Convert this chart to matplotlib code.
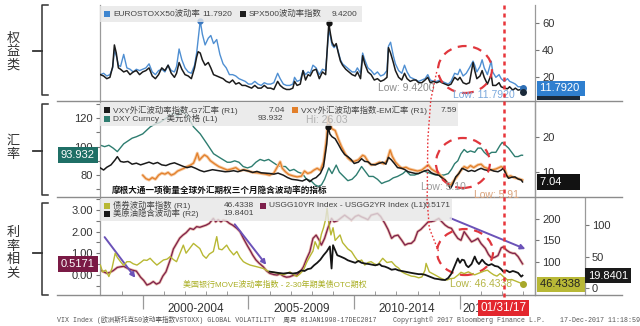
import numpy as np
import matplotlib
matplotlib.use('Agg')
import matplotlib.pyplot as plt
from matplotlib.patches import Ellipse, Rectangle, FancyArrowPatch
from matplotlib.lines import Line2D
import matplotlib.transforms as mtransforms
from matplotlib.ticker import FixedLocator, FormatStrFormatter

plt.rcParams['font.family'] = ['Liberation Sans', 'Noto Sans CJK SC', 'DejaVu Sans']

# ---------------- data ----------------
vix_years = [1998.00, 1998.15, 1998.30, 1998.45, 1998.58, 1998.66, 1998.75, 1998.85, 1998.95, 1999.10,
             1999.25, 1999.40, 1999.55, 1999.70, 1999.85, 2000.00, 2000.15, 2000.30, 2000.45, 2000.60,
             2000.75, 2000.90, 2001.05, 2001.20, 2001.35, 2001.50, 2001.60, 2001.72, 2001.85, 2002.00,
             2002.15, 2002.30, 2002.45, 2002.55, 2002.62, 2002.72, 2002.82, 2002.95, 2003.10, 2003.22,
             2003.35, 2003.50, 2003.65, 2003.80, 2003.95, 2004.10, 2004.25, 2004.40, 2004.55, 2004.70,
             2004.85, 2005.00, 2005.15, 2005.30, 2005.45, 2005.60, 2005.75, 2005.90, 2006.05, 2006.20,
             2006.38, 2006.50, 2006.65, 2006.80, 2006.95, 2007.10, 2007.18, 2007.30, 2007.45, 2007.58,
             2007.70, 2007.82, 2007.92, 2008.05, 2008.20, 2008.35, 2008.50, 2008.65, 2008.80, 2008.88,
             2008.95, 2009.05, 2009.15, 2009.25, 2009.35, 2009.45, 2009.60, 2009.75, 2009.90, 2010.05,
             2010.15, 2010.30, 2010.40, 2010.50, 2010.65, 2010.80, 2010.95, 2011.10, 2011.25, 2011.40,
             2011.55, 2011.62, 2011.72, 2011.85, 2011.95, 2012.10, 2012.25, 2012.38, 2012.50, 2012.65,
             2012.80, 2012.92, 2013.05, 2013.20, 2013.35, 2013.48, 2013.60, 2013.75, 2013.90, 2014.05,
             2014.15, 2014.30, 2014.45, 2014.58, 2014.75, 2014.90, 2015.00, 2015.15, 2015.30, 2015.45,
             2015.62, 2015.70, 2015.80, 2015.95, 2016.05, 2016.15, 2016.30, 2016.48, 2016.55, 2016.70,
             2016.85, 2016.95, 2017.10, 2017.25, 2017.35, 2017.50, 2017.62, 2017.75, 2017.88, 2017.96]
vix_vals = [22, 21, 19, 20, 28, 44, 38, 27, 26, 24,
            25, 22, 24, 25, 22, 24, 25, 27, 21, 19,
            22, 27, 25, 29, 23, 20, 23, 31, 26, 22,
            21, 19, 27, 35, 39, 38, 33, 29, 31, 27,
            22, 21, 20, 19, 17, 16, 18, 15, 16, 14,
            14, 13, 12, 14, 12, 12, 14, 12, 12, 11,
            17, 14, 12, 11, 11, 12, 17, 14, 15, 25,
            18, 22, 21, 25, 26, 19, 24, 22, 60, 52,
            46, 43, 45, 38, 32, 29, 26, 24, 22, 21,
            24, 19, 36, 30, 24, 22, 18, 19, 17, 18,
            20, 42, 38, 31, 25, 20, 18, 23, 19, 17,
            18, 18, 16, 16, 18, 20, 16, 17, 16, 17,
            16, 15, 14, 15, 20, 18, 20, 16, 15, 16,
            31, 25, 19, 21, 25, 20, 15, 22, 14, 14,
            16, 13, 12, 11.5, 13, 10.5, 12, 10.5, 11, 9.42]

vstoxx_years = vix_years
vstoxx_vals = [22, 23, 21, 22, 27, 40, 36, 29, 28, 37,
               27, 26, 24, 26, 25, 26, 27, 30, 24, 22,
               25, 26, 24, 29, 25, 24, 28, 41, 33, 27,
               24, 23, 29, 38, 48, 62, 52, 44, 49, 51,
               45, 48, 37, 30, 27, 22, 22, 21, 19, 18,
               17, 15, 15, 17, 15, 14, 16, 15, 15, 16,
               23, 19, 15, 14, 14, 15, 20, 17, 18, 25,
               22, 24, 23, 29, 27, 22, 26, 25, 55, 50,
               44, 42, 44, 39, 33, 30, 28, 26, 24, 24,
               27, 23, 38, 33, 27, 25, 22, 24, 21, 22,
               25, 43, 46, 36, 30, 25, 23, 29, 24, 20,
               19, 18, 17, 18, 19, 22, 18, 17, 17, 18,
               17, 16, 15, 17, 23, 22, 26, 21, 23, 27,
               32, 29, 24, 28, 33, 27, 22, 32, 24, 20,
               22, 19, 17, 19, 17, 16, 15, 13, 13, 11.792]

dxy_years = [1998.00, 1998.20, 1998.40, 1998.60, 1998.80, 1999.10, 1999.30, 1999.50, 1999.70, 2000.00,
             2000.36, 2000.60, 2000.80, 2001.00, 2001.20, 2001.46, 2001.65, 2001.80, 2002.10, 2002.40,
             2002.72, 2003.04, 2003.35, 2003.67, 2004.00, 2004.15, 2004.35, 2004.55, 2004.75, 2004.95,
             2005.15, 2005.35, 2005.55, 2005.75, 2005.95, 2006.15, 2006.35, 2006.55, 2006.75, 2006.95,
             2007.15, 2007.35, 2007.55, 2007.75, 2007.95, 2008.15, 2008.30, 2008.45, 2008.60, 2008.80,
             2008.95, 2009.15, 2009.30, 2009.50, 2009.70, 2009.90, 2010.10, 2010.35, 2010.50, 2010.70,
             2010.90, 2011.10, 2011.30, 2011.45, 2011.65, 2011.85, 2012.05, 2012.30, 2012.45, 2012.65,
             2012.85, 2013.05, 2013.25, 2013.45, 2013.65, 2013.85, 2014.05, 2014.25, 2014.45, 2014.60,
             2014.75, 2014.90, 2015.05, 2015.20, 2015.35, 2015.50, 2015.70, 2015.85, 2016.00, 2016.15,
             2016.30, 2016.50, 2016.70, 2016.90, 2017.00, 2017.15, 2017.30, 2017.45, 2017.60, 2017.75,
             2017.90, 2017.96]
dxy_vals = [101, 100, 101, 99, 96.5, 102, 104, 106, 107, 109,
            114, 116, 117, 119, 121, 124, 121, 126, 122, 114,
            109, 102, 95, 92, 89, 89, 90, 89, 86, 85,
            86, 89, 91, 90, 91, 89, 87, 86, 86, 83,
            84, 82, 81, 77, 76, 73, 72, 73, 77, 85,
            81, 87, 82, 79, 76, 77, 80, 86, 83, 79,
            79, 77, 74, 75, 76, 78, 79, 81, 83, 80,
            80, 81, 83, 82, 81, 80, 80, 80, 81, 84,
            88, 90, 95, 98, 96, 97, 96, 99, 99, 96,
            94, 96, 96, 101, 103, 101, 99, 96, 93, 93,
            94, 93.932]

g7_years = [1998.00, 1998.15, 1998.30, 1998.50, 1998.70, 1998.80, 1998.95, 1999.10, 1999.30, 1999.50,
            1999.70, 1999.90, 2000.10, 2000.30, 2000.50, 2000.70, 2000.90, 2001.10, 2001.30, 2001.50,
            2001.70, 2001.90, 2002.10, 2002.30, 2002.50, 2002.70, 2002.90, 2003.10, 2003.30, 2003.50,
            2003.70, 2003.90, 2004.10, 2004.30, 2004.50, 2004.75, 2005.00, 2005.20, 2005.40, 2005.60,
            2005.80, 2006.00, 2006.20, 2006.40, 2006.65, 2006.85, 2007.05, 2007.30, 2007.55, 2007.75,
            2007.90, 2008.05, 2008.20, 2008.40, 2008.55, 2008.70, 2008.77, 2008.85, 2008.95, 2009.10,
            2009.25, 2009.40, 2009.55, 2009.70, 2009.85, 2010.00, 2010.20, 2010.35, 2010.50, 2010.65,
            2010.80, 2011.00, 2011.15, 2011.35, 2011.50, 2011.62, 2011.75, 2011.90, 2012.05, 2012.25,
            2012.40, 2012.55, 2012.75, 2012.90, 2013.05, 2013.20, 2013.35, 2013.50, 2013.65, 2013.80,
            2014.00, 2014.15, 2014.30, 2014.45, 2014.55, 2014.65, 2014.80, 2014.95, 2015.10, 2015.25,
            2015.40, 2015.55, 2015.70, 2015.85, 2016.00, 2016.15, 2016.30, 2016.45, 2016.60, 2016.80,
            2016.95, 2017.05, 2017.20, 2017.30, 2017.45, 2017.60, 2017.75, 2017.90, 2017.96]
g7_vals = [11.1, 10.5, 11.3, 12.0, 13.5, 14.4, 13.0, 12.8, 13.0, 12.2,
           12.5, 12.0, 12.4, 12.8, 12.3, 12.7, 12.0, 11.8, 12.3, 12.6,
           12.1, 11.6, 11.2, 11.5, 11.0, 10.4, 10.0, 10.3, 10.6, 10.4,
           10.2, 10.0, 10.1, 10.3, 10.0, 10.5, 10.2, 9.8, 10.1, 9.7,
           9.6, 9.5, 9.3, 9.6, 9.0, 8.3, 7.8, 7.6, 7.3, 7.9,
           7.1, 7.9, 8.3, 9.5, 11.5, 18.0, 23.1, 21.0, 20.2, 19.6,
           18.0, 16.3, 15.0, 14.4, 13.6, 12.4, 12.8, 13.8, 13.0, 12.9,
           12.1, 12.0, 12.4, 12.8, 12.2, 14.2, 13.5, 12.4, 11.2, 11.0,
           10.6, 10.0, 9.7, 9.5, 9.5, 9.9, 10.3, 10.5, 9.7, 9.3,
           9.0, 8.2, 7.6, 6.4, 5.10, 6.2, 8.5, 9.5, 11.0, 10.6,
           10.1, 10.4, 10.1, 10.6, 11.0, 10.6, 10.4, 10.6, 10.2, 10.0,
           10.5, 11.0, 9.0, 8.1, 8.4, 8.5, 7.9, 7.6, 7.04]

em_years = [2000.00, 2000.15, 2000.30, 2000.45, 2000.60, 2000.75, 2000.90, 2001.05, 2001.20, 2001.35,
            2001.50, 2001.65, 2001.80, 2001.95, 2002.10, 2002.25, 2002.40, 2002.50, 2002.58, 2002.68,
            2002.80, 2002.92, 2003.05, 2003.20, 2003.40, 2003.60, 2003.80, 2004.00, 2004.20, 2004.40,
            2004.60, 2004.80, 2005.00, 2005.20, 2005.40, 2005.60, 2005.80, 2006.00, 2006.20, 2006.40,
            2006.50, 2006.60, 2006.75, 2006.90, 2007.10, 2007.30, 2007.50, 2007.65, 2007.80, 2007.95,
            2008.10, 2008.25, 2008.40, 2008.55, 2008.70, 2008.77, 2008.85, 2008.95, 2009.10, 2009.25,
            2009.40, 2009.55, 2009.70, 2009.85, 2010.00, 2010.20, 2010.40, 2010.50, 2010.65, 2010.80,
            2011.00, 2011.20, 2011.40, 2011.55, 2011.70, 2011.80, 2011.95, 2012.10, 2012.25, 2012.45,
            2012.60, 2012.80, 2013.00, 2013.20, 2013.40, 2013.50, 2013.65, 2013.80, 2014.00, 2014.15,
            2014.30, 2014.42, 2014.50, 2014.60, 2014.70, 2014.85, 2015.00, 2015.20, 2015.35, 2015.50,
            2015.65, 2015.85, 2016.00, 2016.15, 2016.30, 2016.50, 2016.70, 2016.85, 2016.95, 2017.10,
            2017.25, 2017.40, 2017.55, 2017.75, 2017.90, 2017.96]
em_vals = [9.0, 8.0, 7.6, 8.3, 7.8, 9.0, 9.6, 9.3, 9.8, 9.0,
           9.4, 10.2, 10.6, 11.0, 11.5, 11.9, 12.5, 14.0, 15.4, 13.4,
           14.2, 14.9, 14.4, 13.2, 12.3, 11.5, 11.0, 10.5, 10.8, 11.2,
           10.3, 10.6, 10.2, 9.8, 9.7, 9.5, 9.3, 9.0, 9.6, 11.8,
           12.9, 11.0, 10.0, 9.2, 8.8, 8.5, 8.7, 10.2, 9.5, 9.8,
           10.5, 11.0, 10.4, 12.9, 20.0, 26.03, 24.0, 22.5, 22.0, 19.5,
           17.3, 15.5, 14.0, 13.2, 13.0, 13.5, 14.8, 14.5, 13.0, 12.0,
           12.2, 12.8, 12.3, 13.2, 16.3, 14.5, 12.8, 11.8, 11.0, 11.3,
           10.8, 10.5, 10.2, 10.5, 11.5, 12.0, 10.8, 10.2, 9.5, 8.5,
           7.5, 6.6, 5.91, 6.4, 7.3, 8.5, 10.0, 11.5, 11.0, 11.8,
           11.2, 12.0, 12.2, 11.3, 11.0, 10.5, 10.8, 11.2, 11.5, 11.0,
           8.5, 8.8, 8.3, 8.0, 7.7, 7.59]

spread_years = [1998.00, 1998.15, 1998.30, 1998.45, 1998.60, 1998.80, 1998.95, 1999.10, 1999.30, 1999.50,
                1999.70, 1999.90, 2000.05, 2000.20, 2000.35, 2000.50, 2000.65, 2000.80, 2000.95, 2001.10,
                2001.30, 2001.45, 2001.60, 2001.75, 2001.90, 2002.05, 2002.24, 2002.40, 2002.55, 2002.70,
                2002.85, 2003.00, 2003.15, 2003.34, 2003.45, 2003.57, 2003.70, 2003.80, 2003.95, 2004.10,
                2004.25, 2004.45, 2004.60, 2004.76, 2004.95, 2005.10, 2005.20, 2005.35, 2005.50, 2005.70,
                2005.85, 2006.00, 2006.20, 2006.35, 2006.50, 2006.65, 2006.80, 2006.95, 2007.10, 2007.30,
                2007.45, 2007.60, 2007.75, 2007.90, 2008.05, 2008.20, 2008.35, 2008.45, 2008.60, 2008.75,
                2008.93, 2009.05, 2009.20, 2009.40, 2009.55, 2009.70, 2009.87, 2010.05, 2010.20, 2010.35,
                2010.50, 2010.65, 2010.80, 2010.95, 2011.10, 2011.25, 2011.45, 2011.60, 2011.77, 2011.90,
                2012.07, 2012.25, 2012.40, 2012.55, 2012.70, 2012.85, 2013.00, 2013.15, 2013.35, 2013.50,
                2013.65, 2013.80, 2014.00, 2014.15, 2014.30, 2014.45, 2014.60, 2014.75, 2014.90, 2015.05,
                2015.20, 2015.35, 2015.55, 2015.70, 2015.85, 2016.00, 2016.20, 2016.35, 2016.50, 2016.65,
                2016.80, 2016.95, 2017.05, 2017.20, 2017.35, 2017.50, 2017.60, 2017.75, 2017.90, 2017.96]
spread_vals = [0.23, 0.15, 0.08, 0.12, 0.20, 0.35, 0.38, 0.40, 0.30, 0.23,
               0.18, -0.10, -0.25, -0.46, -0.40, -0.30, -0.42, -0.35, -0.05, 0.15,
               0.70, 1.20, 1.45, 1.70, 1.84, 1.95, 2.15, 2.10, 2.23, 2.20,
               2.25, 2.30, 2.38, 2.61, 2.45, 2.55, 2.45, 2.53, 2.50, 2.38,
               2.30, 2.15, 2.00, 1.69, 1.35, 1.10, 0.92, 0.70, 0.55, 0.38,
               0.20, 0.08, 0.02, 0.00, 0.05, -0.05, -0.10, -0.08, -0.02, 0.00,
               0.15, 0.38, 0.75, 1.07, 1.69, 1.84, 1.60, 1.38, 1.69, 2.15,
               2.61, 2.45, 2.50, 2.65, 2.76, 2.65, 2.53, 2.70, 2.76, 2.68,
               2.62, 2.55, 2.76, 2.80, 2.84, 2.70, 2.38, 2.10, 1.69, 1.80,
               1.84, 1.60, 1.38, 1.45, 1.46, 1.60, 2.00, 2.10, 2.30, 2.45,
               2.46, 2.50, 2.61, 2.45, 2.30, 2.20, 2.15, 1.90, 1.69, 1.60,
               2.00, 1.80, 1.53, 1.60, 1.69, 1.45, 1.23, 0.95, 0.77, 0.82,
               0.90, 1.25, 1.30, 1.15, 1.05, 1.00, 1.00, 0.85, 0.61, 0.5171]

move_years = [1998.00, 1998.10, 1998.25, 1998.40, 1998.55, 1998.70, 1998.80, 1998.95, 1999.10, 1999.25,
              1999.40, 1999.55, 1999.73, 1999.90, 2000.05, 2000.20, 2000.35, 2000.50, 2000.67, 2000.85,
              2000.98, 2001.15, 2001.30, 2001.45, 2001.60, 2001.75, 2001.92, 2002.05, 2002.20, 2002.40,
              2002.55, 2002.70, 2002.85, 2003.00, 2003.15, 2003.34, 2003.50, 2003.60, 2003.75, 2003.97,
              2004.10, 2004.30, 2004.45, 2004.60, 2004.76, 2004.90, 2005.08, 2005.25, 2005.40, 2005.55,
              2005.70, 2005.85, 2006.00, 2006.20, 2006.35, 2006.50, 2006.65, 2006.80, 2006.96, 2007.12,
              2007.28, 2007.45, 2007.60, 2007.75, 2007.90, 2008.05, 2008.15, 2008.30, 2008.45, 2008.55,
              2008.65, 2008.72, 2008.80, 2008.90, 2009.00, 2009.10, 2009.33, 2009.45, 2009.55, 2009.70,
              2009.87, 2010.05, 2010.20, 2010.35, 2010.50, 2010.65, 2010.80, 2010.95, 2011.10, 2011.35,
              2011.55, 2011.77, 2011.95, 2012.10, 2012.25, 2012.40, 2012.55, 2012.70, 2012.87, 2013.05,
              2013.20, 2013.35, 2013.40, 2013.55, 2013.70, 2013.85, 2014.10, 2014.25, 2014.40, 2014.55,
              2014.72, 2014.90, 2015.05, 2015.20, 2015.40, 2015.55, 2015.70, 2015.85, 2016.00, 2016.15,
              2016.30, 2016.45, 2016.60, 2016.75, 2016.90, 2017.05, 2017.25, 2017.45, 2017.60, 2017.75,
              2017.90, 2017.96]
move_vals = [92, 76, 80, 65, 85, 120, 110, 100, 91, 100,
             100, 95, 92, 98, 104, 103, 108, 100, 92, 99,
             104, 106, 112, 105, 100, 118, 139, 120, 130, 143,
             137, 131, 115, 108, 118, 124, 159, 130, 128, 139,
             128, 116, 124, 110, 100, 96, 92, 90, 88, 86,
             84, 80, 76, 75, 73, 71, 69, 72, 76, 70,
             65, 72, 80, 98, 112, 125, 147, 130, 165, 180,
             200, 226, 190, 163, 180, 150, 163, 145, 139, 130,
             124, 110, 100, 104, 92, 98, 100, 95, 92, 108,
             98, 100, 90, 85, 76, 72, 69, 66, 65, 62,
             64, 80, 96, 76, 72, 68, 61, 58, 57, 60,
             61, 68, 75, 72, 76, 72, 69, 72, 75, 78,
             80, 74, 69, 66, 72, 65, 57, 58, 55, 52,
             49, 46.4338]

ovx_years = [2006.00, 2006.20, 2006.40, 2006.65, 2006.90, 2007.10, 2007.30, 2007.50, 2007.65, 2007.80,
             2007.95, 2008.10, 2008.25, 2008.40, 2008.55, 2008.70, 2008.85, 2008.93, 2009.00, 2009.10,
             2009.20, 2009.35, 2009.55, 2009.70, 2009.87, 2010.05, 2010.20, 2010.35, 2010.50, 2010.70,
             2010.85, 2011.00, 2011.20, 2011.30, 2011.45, 2011.60, 2011.77, 2011.95, 2012.10, 2012.25,
             2012.40, 2012.55, 2012.70, 2012.87, 2013.05, 2013.20, 2013.35, 2013.50, 2013.65, 2013.80,
             2014.00, 2014.15, 2014.30, 2014.45, 2014.60, 2014.75, 2014.90, 2015.00, 2015.10, 2015.20,
             2015.30, 2015.40, 2015.55, 2015.70, 2015.80, 2015.90, 2016.05, 2016.20, 2016.35, 2016.50,
             2016.65, 2016.80, 2016.95, 2017.05, 2017.20, 2017.35, 2017.50, 2017.60, 2017.75, 2017.90,
             2017.96]
ovx_vals = [26, 25, 24, 23, 24, 23, 24, 28, 27, 30,
            31, 36, 40, 45, 52, 58, 66, 31, 68, 60,
            52, 50, 47, 44, 42, 40, 43, 40, 39, 38,
            37, 36, 38, 35, 34, 32, 29, 30, 28, 27,
            26, 25, 24, 23, 22, 22, 21, 19, 17, 15,
            14, 13, 12.7, 16, 23, 35, 47, 40, 45, 44,
            36, 33, 38, 50, 42, 38, 45, 39, 36, 38,
            35, 34, 30, 26, 28, 25, 27, 26, 24, 18,
            19.8401]

period_labels = ['2000-2004', '2005-2009', '2010-2014', '2015-2017']
period_centers = [2002.5, 2007.5, 2012.5, 2016.45]
period_edges = [2000, 2005, 2010, 2015]
marker_date = 2017.08   # 01/31/17

# ---------------- layout helpers ----------------
W, H = 640, 326
fig = plt.figure(figsize=(W / 100, H / 100), dpi=100)


def F(x, y):
    return (x / W, 1 - y / H)


X0, X1 = 100, 535
XMIN, XMAX = 1997.98, 2018.55
GRAY = '#8c8c8c'
TXT = '#333333'


def style_y(ax):
    ax.tick_params(axis='y', which='both', direction='out', colors='#777777',
                   labelcolor=TXT, labelsize=8, length=3, width=0.8, pad=2)


def make_ax(top, bot):
    ax = fig.add_axes([X0 / W, 1 - bot / H, (X1 - X0) / W, (bot - top) / H])
    ax.set_xlim(XMIN, XMAX)
    ax.patch.set_alpha(0)
    for s in ('top', 'bottom'):
        ax.spines[s].set_visible(False)
    for s in ('left', 'right'):
        ax.spines[s].set_color('#9a9a9a')
        ax.spines[s].set_linewidth(0.9)
    ax.tick_params(axis='x', which='both', bottom=False, labelbottom=False)
    return ax


def twin(ax):
    t = ax.twinx()
    t.set_xlim(XMIN, XMAX)
    for s in ('top', 'bottom', 'left'):
        t.spines[s].set_visible(False)
    t.spines['right'].set_color('#9a9a9a')
    t.spines['right'].set_linewidth(0.9)
    return t


# ---------------- panel 1: equity vol ----------------
ax1 = make_ax(5, 100)
ax1.set_ylim(3.2, 73.6)
ax1.yaxis.tick_right()
ax1.yaxis.set_major_locator(FixedLocator([20, 40, 60]))
style_y(ax1)
ax1.plot(vstoxx_years, vstoxx_vals, color='#4f8fd2', lw=1.0, zorder=2)
ax1.plot(vix_years, vix_vals, color='#1c1c1c', lw=1.1, zorder=3)
i = int(np.argmax(vstoxx_vals))
ax1.plot(vstoxx_years[i], vstoxx_vals[i], 'o', ms=3.5, color='#3a78c0', zorder=4)
i = int(np.argmax(vix_vals))
ax1.plot(vix_years[i], vix_vals[i], 'o', ms=3.5, color='#111111', zorder=4)
ax1.plot(vstoxx_years[-1], vstoxx_vals[-1], 'o', ms=4, color='#2f6fb5', zorder=4)
ax1.plot(vix_years[-1], vix_vals[-1], 'o', ms=4, color='#1b2a3a', zorder=5)

# ---------------- panel 2: FX ----------------
ax2 = make_ax(102, 196)
ax2.set_ylim(65.2, 131.5)
ax2.yaxis.set_major_locator(FixedLocator([80, 100, 120]))
ax2.yaxis.set_minor_locator(FixedLocator([70, 90, 110, 130]))
style_y(ax2)
ax2r = twin(ax2)
ax2r.set_ylim(2.94, 30.3)
ax2r.yaxis.set_major_locator(FixedLocator([10, 20]))
style_y(ax2r)
ax2.plot(dxy_years, dxy_vals, color='#2e7d70', lw=1.0, zorder=2)
ax2r.plot(em_years, em_vals, color='#f6c9a0', lw=2.2, zorder=1, solid_capstyle='round')
ax2r.plot(em_years, em_vals, color='#e27f2a', lw=0.9, zorder=2)
ax2r.plot(g7_years, g7_vals, color='#1a1a1a', lw=1.1, zorder=3)
i = int(np.argmax(g7_vals))
ax2r.plot(g7_years[i], g7_vals[i], 'o', ms=3.5, color='#111111', zorder=4)

# ---------------- panel 3: rates ----------------
ax3 = make_ax(198, 295)
ax3.set_ylim(-0.92, 3.55)
ax3.yaxis.set_major_locator(FixedLocator([0, 1, 2, 3]))
ax3.yaxis.set_minor_locator(FixedLocator([-0.5, 0.5, 1.5, 2.5, 3.5]))
ax3.yaxis.set_major_formatter(FormatStrFormatter('%.2f'))
style_y(ax3)
ax3.tick_params(axis='x', which='major', bottom=True, direction='out', length=10,
                color='#9a9a9a', width=0.9)
ax3.tick_params(axis='x', which='minor', bottom=True, direction='in', length=3,
                color='#9a9a9a', width=0.7)
ax3.xaxis.set_major_locator(FixedLocator(period_edges))
ax3.xaxis.set_minor_locator(FixedLocator(list(range(1999, 2019))))
ax3a = twin(ax3)
ax3a.set_ylim(21.5, 250)
ax3a.yaxis.set_major_locator(FixedLocator([100, 150, 200]))
style_y(ax3a)
ax3b = twin(ax3)
ax3b.set_ylim(-11.1, 142.9)
ax3b.spines['right'].set_position(('axes', (585 - X0) / (X1 - X0)))
ax3b.yaxis.set_major_locator(FixedLocator([0, 50, 100]))
style_y(ax3b)
ax3.plot(spread_years, spread_vals, color='#e7b7a8', lw=2.0, zorder=1)
ax3.plot(spread_years, spread_vals, color='#7d1f4b', lw=0.9, zorder=2)
ax3a.plot(move_years, move_vals, color='#b8b834', lw=1.0, zorder=2)
ax3a.plot(move_years[-1], move_vals[-1], 'o', ms=4, color='#a8a82a', zorder=4)
ax3b.plot(ovx_years, ovx_vals, color='#151515', lw=1.3, zorder=3)

# period labels on the time axis
tb3 = mtransforms.blended_transform_factory(ax3.transData, ax3.transAxes)
for lab, c in zip(period_labels, period_centers):
    ax3.text(c, -0.145, lab, transform=tb3, ha='center', va='center', fontsize=8.5,
             color=TXT, clip_on=False)
ax3.text(marker_date, -0.135, '01/31/17', transform=tb3, ha='center', va='center',
         fontsize=8.5, color='white', zorder=20, clip_on=False,
         bbox=dict(boxstyle='square,pad=0.2', fc='#e3262d', ec='none'))

# ---------------- figure decorations ----------------
for yy in (100.5, 197, 295):
    fig.add_artist(Line2D([57 / W, 622 / W], [1 - yy / H] * 2, color=GRAY, lw=1.0, zorder=1))

# red dotted vertical marker line through all panels
tbf = mtransforms.blended_transform_factory(ax1.transData, fig.transFigure)
fig.add_artist(Line2D([marker_date, marker_date], [1 - 5 / H, 1 - 303 / H], transform=tbf,
                      color='#e8353a', lw=1.8, ls=(0, (1.6, 1.6)), zorder=8))
# thin red dotted curve
curve_x = [2013.90, 2013.62, 2013.48, 2013.45, 2013.55, 2014.0]
curve_y = [72, 100, 140, 200, 228, 252]
fig.add_artist(Line2D(curve_x, [1 - v / H for v in curve_y], transform=tbf,
                      color='#e8353a', lw=1.0, ls=(0, (1.2, 1.5)), zorder=8))

# red dashed ellipses
for axx, c, w, h in ((ax1, (2015.24, 25.8), 2.55, 34.8),
                     (ax2r, (2015.14, 12.55), 2.55, 14.55),
                     (ax3, (2015.24, 1.06), 2.65, 2.12)):
    axx.add_patch(Ellipse(c, w, h, fill=False, ec='#e0373d', lw=1.6, ls=(0, (4, 3)),
                          zorder=9, clip_on=False))

# purple trend arrows
for (x0, y0), (x1, y1) in (((1998.12, 1.85), (1999.73, -0.23)),
                           ((2004.27, 2.44), (2005.92, 0.37)),
                           ((2014.43, 2.67), (2018.22, 1.15))):
    ax3.add_patch(FancyArrowPatch((x0, y0), (x1, y1), arrowstyle='-|>', mutation_scale=7,
                                  color='#6b52b8', lw=1.4, zorder=10, clip_on=False))


# legends
def legend_box(x0, y0, x1, y1):
    fig.add_artist(Rectangle(F(x0, y1), (x1 - x0) / W, (y1 - y0) / H, transform=fig.transFigure,
                             fc='#e6e6e6', ec='none', alpha=0.8, zorder=5))


def legend_item(x, y, color, label, value=None, vx=None):
    fig.add_artist(Rectangle(F(x, y + 3), 6 / W, 6 / H, transform=fig.transFigure,
                             fc=color, ec='none', zorder=6))
    fig.text(*F(x + 9, y), label, fontsize=6, color='#444444', va='center', ha='left', zorder=7)
    if value is not None:
        fig.text(*F(vx, y), value, fontsize=6, color='#444444', va='center', ha='right', zorder=7)


legend_box(100, 6, 362, 22)
legend_item(104, 14, '#3f86d0', 'EUROSTOXX50波动率', f'{vstoxx_vals[-1]:.4f}', 232)
legend_item(240, 14, '#1c1c1c', 'SPX500波动率指数', f'{vix_vals[-1]:.4f}', 357)

legend_box(100, 103, 458, 126)
legend_item(104, 110, '#1a1a1a', 'VXY外汇波动率指数-G7汇率 (R1)', f'{g7_vals[-1]:.2f}', 285)
legend_item(104, 118.5, '#2e7d70', 'DXY Curncy - 美元价格 (L1)', f'{dxy_vals[-1]:.3f}', 283)
legend_item(292, 110, '#e27f2a', 'VXY外汇波动率指数-EM汇率 (R1)', f'{em_vals[-1]:.2f}', 457)
fig.text(*F(306, 120), f'Hi: {max(em_vals):.2f}', fontsize=7.5, color='#b0b0b0',
         va='center', ha='left', zorder=7)

legend_box(100, 199, 452, 221)
legend_item(104, 205.5, '#b8b834', '债券波动率指数 (R1)', f'{move_vals[-1]:.4f}', 254)
legend_item(104, 213.5, '#1a1a1a', '美原油隐含波动率 (R2)', f'{ovx_vals[-1]:.4f}', 254)
legend_item(260, 205.5, '#7d1f4b', 'USGG10YR Index - USGG2YR Index (L1)', f'{spread_vals[-1]:.4f}', 451)

# "Low" annotations
fig.text(*F(378, 88), f'Low: {min(vix_vals):.4f}', fontsize=7.5, color='#8c8c8c', va='center', zorder=7)
fig.text(*F(453, 95), f'Low: {min(vstoxx_vals):.4f}', fontsize=7.5, color='#7aa8dc', va='center', zorder=7)
fig.text(*F(421, 187), f'Low: {min(g7_vals):.2f}', fontsize=7.5, color='#9a9a9a', va='center', zorder=7)
fig.text(*F(474, 194.5), f'Low: {min(em_vals):.2f}', fontsize=7.5, color='#d9a27a', va='center', zorder=7)
fig.text(*F(450, 284), f'Low: {min(move_vals):.4f}', fontsize=7.5, color='#b5b545', va='center', zorder=7)

# notes inside panels
fig.text(*F(112, 190), '摩根大通一项衡量全球外汇期权三个月隐含波动率的指标', fontsize=6.2,
         fontweight='bold', color='#111111', va='center', ha='left', zorder=7)
fig.text(*F(183, 285), '美国银行MOVE波动率指数 - 2-30年期美债OTC期权', fontsize=5.8,
         color='#a9ae22', va='center', ha='left', zorder=7)


# last-value tags
def tag_right(axx, xa, val, text, fc, tc='white'):
    tr = mtransforms.blended_transform_factory(axx.transAxes, axx.transData)
    axx.text(xa, val, text, transform=tr, ha='left', va='center', fontsize=8, color=tc,
             zorder=20, clip_on=False, bbox=dict(boxstyle='square,pad=0.25', fc=fc, ec='none'))


def tag_hidden(axx, val, half_h, fc):
    tr = mtransforms.blended_transform_factory(axx.transAxes, axx.transData)
    axx.add_patch(Rectangle((1.004, val - half_h), 0.1, 2 * half_h, transform=tr,
                            fc=fc, ec='none', zorder=19, clip_on=False))


def tag_left(axx, val, text, fc):
    tr = mtransforms.blended_transform_factory(axx.transAxes, axx.transData)
    axx.text(-0.012, val, text, transform=tr, ha='right', va='center', fontsize=8, color='white',
             zorder=20, clip_on=False, bbox=dict(boxstyle='square,pad=0.25', fc=fc, ec='none'))


tag_hidden(ax1, vix_vals[-1] - 1.5, 4.4, '#1b2a3a')
tag_right(ax1, 1.012, vstoxx_vals[-1], f'{vstoxx_vals[-1]:.4f} ', '#2f7fcf')
tag_hidden(ax2r, em_vals[-1], 1.75, '#e27f2a')
tag_right(ax2r, 1.012, g7_vals[-1], f'{g7_vals[-1]:.2f}     ', '#121212')
tag_left(ax2, dxy_vals[-1], f'{dxy_vals[-1]:.3f}', '#1f6f66')
tag_left(ax3, spread_vals[-1], f'{spread_vals[-1]:.4f}', '#7a1a45')
tag_right(ax3a, 1.012, move_vals[-1], f'{move_vals[-1]:.4f} ', '#b8b836', tc='#222222')
tag_right(ax3b, (588 - X0) / (X1 - X0), ovx_vals[-1], f'{ovx_vals[-1]:.4f}', '#1a1a1a')

# left category labels with brackets
groups = [('权\n益\n类', 5, 95, 51, 52), ('汇\n率', 104, 195, 151, 148),
          ('利\n率\n相\n关', 203, 295, 253, 253)]
for lab, t, b, m, ty in groups:
    fig.text(13 / W, 1 - ty / H, lab, fontsize=9.5, color=TXT, ha='center', va='center',
             linespacing=1.05, family=['Noto Sans CJK SC', 'DejaVu Sans'])
    xs = [48 / W, 42 / W, 42 / W, 48 / W]
    ys = [1 - t / H, 1 - t / H, 1 - b / H, 1 - b / H]
    fig.add_artist(Line2D(xs, ys, color='#333333', lw=1.1))
    fig.add_artist(Line2D([33 / W, 42 / W], [1 - m / H] * 2, color='#333333', lw=1.3))

# footer
fig.text(*F(57, 320), 'VIX Index (欧洲斯托克50波动率指数VSTOXX) GLOBAL VOLATILITY  周月 01JAN1998-17DEC2017',
         fontsize=4.8, color='#555555', va='center', ha='left',
         family=['Liberation Mono', 'Noto Sans CJK SC'])
fig.text(*F(393, 320), 'Copyright© 2017 Bloomberg Finance L.P.', fontsize=4.8, color='#555555',
         va='center', ha='left', family=['Liberation Mono', 'DejaVu Sans Mono'])
fig.text(*F(560, 320), '17-Dec-2017 11:18:59', fontsize=4.8, color='#555555',
         va='center', ha='left', family=['Liberation Mono', 'DejaVu Sans Mono'])

fig.savefig('out.png', dpi=100)
